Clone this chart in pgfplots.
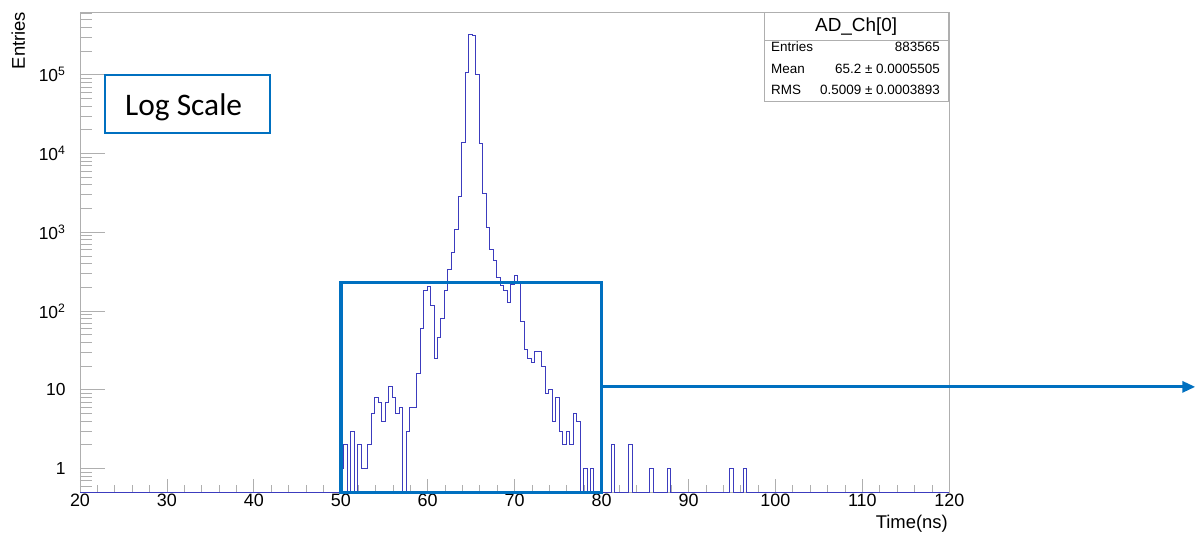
\documentclass[border=0pt]{standalone}
\usepackage{fontspec}
\setmainfont{Liberation Sans}
\newfontfamily\carlito{Carlito}
\usepackage{pgfplots}
\pgfplotsset{compat=1.18}
\usetikzlibrary{arrows.meta}
\definecolor{histblue}{RGB}{60,60,190}
\definecolor{pptblue}{RGB}{0,112,192}
\definecolor{framegray}{RGB}{175,175,175}
\begin{document}
\begin{tikzpicture}
\useasboundingbox (-80bp,-42.7bp) rectangle (1116bp,492.3bp);
\begin{axis}[
  at={(0,0)}, anchor=south west,
  scale only axis, width=869.3bp, height=480bp,
  xmin=20, xmax=120, ymode=log, ymin=0.5, ymax=6.2e5,
  clip=false,
  axis line style={draw=framegray, line width=0.8bp},
  tick style={draw=framegray, line width=0.8bp},
  tick align=inside,
  xtick pos=bottom, ytick pos=left,
  xtick={20,30,...,120}, minor x tick num=4,
  xtick style={/pgfplots/major tick length=13bp, /pgfplots/minor tick length=7bp},
  ytick style={/pgfplots/major tick length=25bp, /pgfplots/minor tick length=12bp},
  ytick={1,10,100,1000,10000,100000},
  yticklabels={1,10,10\textsuperscript{2},10\textsuperscript{3},10\textsuperscript{4},10\textsuperscript{5}},
  minor ytick={0.6,0.7,0.8,0.9,2,3,4,5,6,7,8,9,20,30,40,50,60,70,80,90,200,300,400,500,600,700,800,900,2000,3000,4000,5000,6000,7000,8000,9000,20000,30000,40000,50000,60000,70000,80000,90000,200000,300000,400000,500000,600000},
  /pgf/number format/assume math mode=true,
  xticklabel style={font=\fontsize{18}{20}\selectfont, yshift=2bp},
  yticklabel style={font=\fontsize{17.5}{20}\selectfont, xshift=-11bp},
]
\addplot[const plot, histblue, line width=0.9bp, mark=none] coordinates {
(20,0.5)
(49.92,1) (50.32,2) (50.72,0.5) (51.12,3) (51.52,0.5) (51.92,2) (52.32,1) (52.72,1)
(53.12,2) (53.52,5) (53.92,8) (54.32,7) (54.72,4) (55.12,7) (55.52,11) (55.92,8)
(56.32,5) (56.72,6) (57.12,0.5) (57.52,3) (57.92,6) (58.32,6) (58.72,16) (59.12,60)
(59.52,185) (59.92,204) (60.32,119) (60.72,25) (61.12,46) (61.52,81) (61.92,185)
(62.32,340) (62.72,551) (63.12,1090) (63.52,2830) (63.92,13700) (64.32,107000)
(64.72,320000) (65.12,318000) (65.52,102000) (65.92,13500) (66.32,3100) (66.72,1140)
(67.12,600) (67.52,436) (67.92,270) (68.32,214) (68.72,185) (69.12,128) (69.52,220)
(69.92,287) (70.32,225) (70.72,73) (71.12,33) (71.52,25) (71.92,22) (72.32,31)
(72.72,31) (73.12,20) (73.52,9) (73.92,10) (74.32,4) (74.72,8) (75.12,3) (75.52,2)
(75.92,3) (76.32,2) (76.72,5) (77.12,4) (77.52,0.5) (77.92,1) (78.32,0.5) (78.72,1)
(79.12,0.5)
(81.12,2) (81.52,0.5) (83.12,2) (83.52,0.5) (85.52,1) (85.92,0.5) (87.52,1) (87.92,0.5)
(94.72,1) (95.12,0.5) (96.32,1) (96.72,0.5) (120,0.5)
};
\draw[pptblue, line width=3.5bp] (axis cs:50,0.5) rectangle (axis cs:80,229);
\draw[pptblue, line width=3bp, -{Triangle[length=13bp,width=11bp]}] (axis cs:80,10.9) -- (axis cs:148.3,10.9);
\end{axis}
% axis titles
\node[rotate=90, anchor=base east, inner sep=0pt, font=\fontsize{18.5}{20}\selectfont] at (-55bp,480.6bp) {Entries};
\node[anchor=base east, inner sep=0pt, font=\fontsize{18.5}{20}\selectfont] at (868bp,-35.7bp) {Time(ns)};
% Log Scale box
\draw[pptblue, line width=2bp, fill=white] (25bp,359.3bp) rectangle (190bp,417.3bp);
\node[anchor=base west, inner sep=0pt, font=\carlito\fontsize{31.5}{34}\selectfont] at (45bp,377bp) {Log Scale};
% stats box
\draw[framegray, line width=0.8bp, fill=white] (684bp,391.3bp) rectangle (868.3bp,480bp);
\draw[framegray, line width=0.8bp] (684bp,451.6bp) -- (868.3bp,451.6bp);
\node[font=\fontsize{19}{21}\selectfont, inner sep=0pt] at (776.2bp,466bp) {AD\_Ch[0]};
\node[anchor=west, inner sep=0pt, font=\fontsize{13.5}{15}\selectfont] at (691bp,445.3bp) {Entries};
\node[anchor=east, inner sep=0pt, font=\fontsize{13.5}{15}\selectfont] at (860bp,445.3bp) {883565};
\node[anchor=west, inner sep=0pt, font=\fontsize{13.5}{15}\selectfont] at (691bp,423.3bp) {Mean};
\node[anchor=east, inner sep=0pt, font=\fontsize{13.5}{15}\selectfont] at (860bp,423.3bp) {65.2 ± 0.0005505};
\node[anchor=west, inner sep=0pt, font=\fontsize{13.5}{15}\selectfont] at (691bp,402.3bp) {RMS};
\node[anchor=east, inner sep=0pt, font=\fontsize{13.5}{15}\selectfont] at (860bp,402.3bp) {0.5009 ± 0.0003893};
\end{tikzpicture}
\end{document}
